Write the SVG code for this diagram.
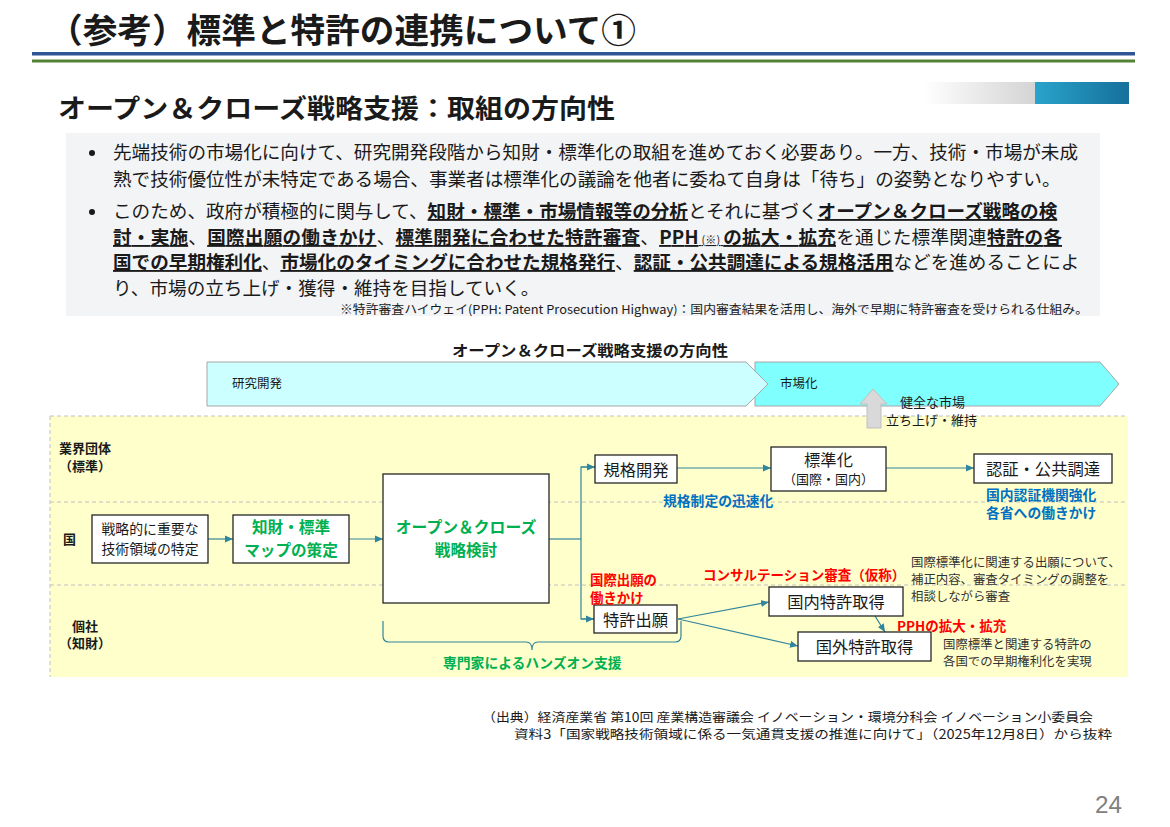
<svg xmlns="http://www.w3.org/2000/svg" width="1170" height="827" viewBox="0 0 1170 827">
<defs>
<style>
text{font-family:'Noto Sans CJK JP','Noto Sans',sans-serif;fill:#1a1a1a;}
.box{fill:#fff;stroke:#262626;stroke-width:1.3;}
.con{stroke:#31859c;stroke-width:1.2;fill:none;}
.dash{stroke:#c0c0c0;stroke-dasharray:4 3;stroke-width:1;fill:none;}
.g{fill:#00b050;font-weight:bold;}
.bl{fill:#0070c0;font-weight:bold;}
.r{fill:#ff0000;font-weight:bold;}
.u{font-weight:bold;text-decoration:underline;}
.lbl{font-weight:bold;font-size:13px;}
.bt{font-size:18.6px;}
.nd{font-size:16.3px;}
.gr{font-size:12.4px;fill:#333;}
.chev{stroke:#a6a6a6;stroke-width:1;}
</style>
<linearGradient id="gGrey" x1="0" y1="0" x2="1" y2="0"><stop offset="0" stop-color="#ffffff"/><stop offset="1" stop-color="#d4d4d4"/></linearGradient>
<linearGradient id="gBlue" x1="0" y1="0" x2="1" y2="0"><stop offset="0" stop-color="#29a3cc"/><stop offset="1" stop-color="#16709a"/></linearGradient>
<marker id="ah" markerWidth="8" markerHeight="8" refX="8" refY="4" orient="auto" markerUnits="userSpaceOnUse"><path d="M0,0.5 L8,4 L0,7.5 Z" fill="#31859c"/></marker>
</defs>
<rect width="1170" height="827" fill="#fff"/>

<!-- Header -->
<g id="header">
<text x="48" y="43" font-size="34" font-weight="bold" textLength="588" lengthAdjust="spacingAndGlyphs">（参考）標準と特許の連携について①</text>
<rect x="32" y="52" width="1103" height="3.5" fill="#2f5597"/>
<rect x="32" y="59.5" width="1103" height="3" fill="#548235"/>
<text x="58" y="118" font-size="26" font-weight="bold" textLength="557" lengthAdjust="spacingAndGlyphs">オープン＆クローズ戦略支援：取組の方向性</text>
<rect x="923" y="82" width="112" height="22" fill="url(#gGrey)"/>
<rect x="1035" y="82" width="94" height="22" fill="url(#gBlue)"/>
</g>

<!-- Bullet box -->
<g id="bullets">
<rect x="66" y="133" width="1034" height="183" fill="#f2f4f6"/>
<circle cx="92" cy="153" r="3" fill="#1a1a1a"/>
<text class="bt" x="113" y="159">先端技術の市場化に向けて、研究開発段階から知財・標準化の取組を進めておく必要あり。一方、技術・市場が未成</text>
<text class="bt" x="113" y="186">熟で技術優位性が未特定である場合、事業者は標準化の議論を他者に委ねて自身は「待ち」の姿勢となりやすい。</text>
<circle cx="92" cy="212" r="3" fill="#1a1a1a"/>
<text class="bt" x="113" y="218">このため、政府が積極的に関与して、<tspan class="u">知財・標準・市場情報等の分析</tspan>とそれに基づく<tspan class="u">オープン＆クローズ戦略の検</tspan></text>
<text class="bt" x="113" y="244" textLength="949" lengthAdjust="spacing"><tspan class="u">討・実施</tspan>、<tspan class="u">国際出願の働きかけ</tspan>、<tspan class="u">標準開発に合わせた特許審査</tspan>、<tspan class="u">PPH</tspan><tspan font-size="11" text-decoration="underline"> (※) </tspan><tspan class="u">の拡大・拡充</tspan>を通じた標準関連<tspan class="u">特許の各</tspan></text>
<text class="bt" x="113" y="269"><tspan class="u">国での早期権利化</tspan>、<tspan class="u">市場化のタイミングに合わせた規格発行</tspan>、<tspan class="u">認証・公共調達による規格活用</tspan>などを進めることによ</text>
<text class="bt" x="113" y="295">り、市場の立ち上げ・獲得・維持を目指していく。</text>
<text x="340" y="314" font-size="12" textLength="748" lengthAdjust="spacingAndGlyphs">※特許審査ハイウェイ(PPH: Patent Prosecution Highway)：国内審査結果を活用し、海外で早期に特許審査を受けられる仕組み。</text>
</g>

<!-- Diagram heading and chevrons -->
<g id="phase">
<text x="452" y="356" font-size="15.3" font-weight="bold" textLength="276" lengthAdjust="spacingAndGlyphs">オープン＆クローズ戦略支援の方向性</text>
<path class="chev" d="M755,362 L1100,362 L1119,384 L1100,406 L755,406 Z" fill="#80ffff"/>
<path class="chev" d="M207,362 L746,362 L768,384 L746,406 L207,406 Z" fill="#ccffff"/>
<text x="232" y="388" font-size="12.5">研究開発</text>
<text x="780" y="388" font-size="12.5">市場化</text>
</g>

<!-- Swimlane background -->
<g id="lanes">
<rect x="50" y="416" width="1078" height="261" fill="#ffffcc"/>
<line class="dash" x1="50" y1="416" x2="1128" y2="416"/>
<line class="dash" x1="50" y1="416" x2="50" y2="677"/>
<line class="dash" x1="50" y1="502" x2="1128" y2="502"/>
<line class="dash" x1="50" y1="585" x2="1128" y2="585"/>
<text class="lbl" x="59" y="453">業界団体</text>
<text class="lbl" x="59" y="471">（標準）</text>
<text class="lbl" x="63" y="544">国</text>
<text class="lbl" x="72" y="631">個社</text>
<text class="lbl" x="59" y="648">（知財）</text>
</g>

<!-- Market up arrow -->
<g id="market-arrow">
<path d="M873,389 L887,404 L881,404 L881,428 L867,428 L867,404 L860,404 Z" fill="#d9d9d9" stroke="#bfbfbf" stroke-width="1"/>
<text x="900" y="407" font-size="13">健全な市場</text>
<text x="886" y="425" font-size="13">立ち上げ・維持</text>
</g>

<!-- Connectors -->
<g id="connectors">
<line class="con" x1="208" y1="539" x2="233" y2="539" marker-end="url(#ah)"/>
<line class="con" x1="349" y1="539" x2="383" y2="539" marker-end="url(#ah)"/>
<polyline class="con" points="549,539 581,539"/>
<polyline class="con" points="595,467 581,467 581,619 594,619"/>
<line class="con" x1="581" y1="467" x2="595" y2="467" marker-end="url(#ah)"/>
<line class="con" x1="581" y1="619" x2="594" y2="619" marker-end="url(#ah)"/>
<line class="con" x1="677" y1="468" x2="771" y2="468" marker-end="url(#ah)"/>
<line class="con" x1="886" y1="468" x2="974" y2="468" marker-end="url(#ah)"/>
<line class="con" x1="678" y1="619" x2="769" y2="602" marker-end="url(#ah)"/>
<line class="con" x1="678" y1="619" x2="798" y2="646" marker-end="url(#ah)"/>
<line class="con" x1="875" y1="616" x2="885" y2="632" marker-end="url(#ah)"/>
<path class="con" d="M383,621 L383,636 Q383,642 389,642 L526,642 Q532,642 532,650 Q532,642 538,642 L675,642 Q681,642 681,636 L681,621"/>
</g>

<!-- Nodes -->
<g id="node-tokutei">
<rect class="box" x="92" y="515" width="116" height="48"/>
<text x="150" y="534" font-size="13.9" text-anchor="middle">戦略的に重要な</text>
<text x="150" y="554" font-size="13.9" text-anchor="middle">技術領域の特定</text>
</g>
<g id="node-map">
<rect class="box" x="233" y="515" width="116" height="48"/>
<text class="g" x="291" y="533" font-size="15.6" text-anchor="middle">知財・標準</text>
<text class="g" x="291" y="556" font-size="15.6" text-anchor="middle">マップの策定</text>
</g>
<g id="node-oc">
<rect class="box" x="383" y="474" width="166" height="129"/>
<text class="g" x="466" y="533" font-size="15.8" text-anchor="middle">オープン＆クローズ</text>
<text class="g" x="466" y="556" font-size="15.6" text-anchor="middle">戦略検討</text>
</g>
<g id="node-kikaku">
<rect class="box" x="595" y="455" width="82" height="28"/>
<text class="nd" x="636" y="476" text-anchor="middle">規格開発</text>
</g>
<g id="node-hyojunka">
<rect class="box" x="771" y="447" width="115" height="44"/>
<text class="nd" x="828.5" y="466" text-anchor="middle">標準化</text>
<text x="828.5" y="484" font-size="13" text-anchor="middle">（国際・国内）</text>
</g>
<g id="node-ninsho">
<rect class="box" x="974" y="454" width="138" height="29"/>
<text class="nd" x="1043" y="475" text-anchor="middle">認証・公共調達</text>
</g>
<g id="node-shutsugan">
<rect class="box" x="594" y="605" width="83" height="28"/>
<text class="nd" x="635.5" y="626" text-anchor="middle">特許出願</text>
</g>
<g id="node-kokunai">
<rect class="box" x="769" y="587" width="134" height="29"/>
<text class="nd" x="836" y="608" text-anchor="middle">国内特許取得</text>
</g>
<g id="node-kokugai">
<rect class="box" x="798" y="632" width="133" height="29"/>
<text class="nd" x="864.5" y="653" text-anchor="middle">国外特許取得</text>
</g>

<!-- Annotations -->
<g id="annotations">
<text class="bl" x="663" y="506" font-size="13.8">規格制定の迅速化</text>
<text class="bl" x="986" y="500" font-size="13.8">国内認証機関強化</text>
<text class="bl" x="986" y="518" font-size="13.8">各省への働きかけ</text>
<text class="r" x="590" y="585" font-size="13.4">国際出願の</text>
<text class="r" x="590" y="603" font-size="13.4">働きかけ</text>
<text class="r" x="703" y="580" font-size="13.5">コンサルテーション審査（仮称）</text>
<text class="gr" x="911" y="567">国際標準化に関連する出願について、</text>
<text class="gr" x="911" y="584">補正内容、審査タイミングの調整を</text>
<text class="gr" x="911" y="601">相談しながら審査</text>
<text class="r" x="897" y="631" font-size="13.5">PPHの拡大・拡充</text>
<text class="gr" x="943" y="649">国際標準と関連する特許の</text>
<text class="gr" x="943" y="666">各国での早期権利化を実現</text>
<text class="g" x="443" y="668" font-size="13.8">専門家によるハンズオン支援</text>
</g>

<!-- Footer -->
<g id="footer">
<text x="482" y="722" font-size="12.5" textLength="611" lengthAdjust="spacingAndGlyphs">（出典）経済産業省 第10回 産業構造審議会 イノベーション・環境分科会 イノベーション小委員会</text>
<text x="514" y="739" font-size="12.5" textLength="598" lengthAdjust="spacingAndGlyphs">資料3「国家戦略技術領域に係る一気通貫支援の推進に向けて」（2025年12月8日）から抜粋</text>
<text x="1095" y="813" font-size="24" style="font-family:'Liberation Sans',sans-serif;fill:#808080" textLength="27" lengthAdjust="spacingAndGlyphs">24</text>
</g>
</svg>
